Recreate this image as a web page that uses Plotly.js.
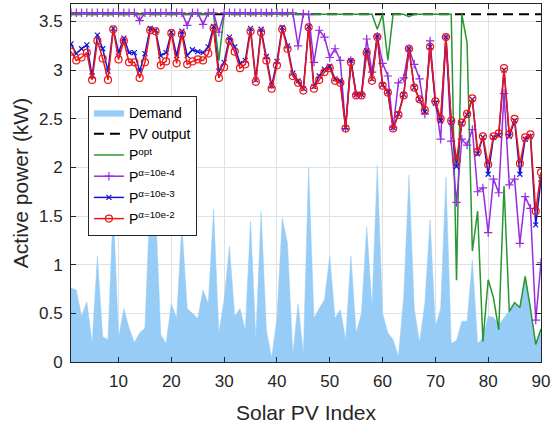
<!DOCTYPE html>
<html>
<head>
<meta charset="utf-8">
<script src="https://cdn.plot.ly/plotly-3.0.1.min.js"></script>
<style>
  html, body { margin: 0; padding: 0; background: #ffffff; }
  #chart { width: 551px; height: 425px; }
</style>
</head>
<body>
<div id="chart"></div>
<script>
// Solar PV index 1..90
const pvIndex = Array.from({ length: 90 }, (_, i) => i + 1);

// Demand at each PV bus (kW)
const demand = [
  0.76, 0.74, 0.47, 0.62, 0.19, 1.09, 0.26, 0.23, 1.60, 0.25,
  0.55, 0.35, 0.20, 0.30, 0.35, 1.70, 1.60, 0.28, 0.19, 0.60,
  0.45, 1.41, 0.55, 0.50, 0.45, 0.74, 0.60, 1.57, 0.30, 0.64,
  1.19, 0.47, 0.55, 0.33, 1.45, 0.24, 1.55, 0.33, 0.04, 0.45,
  1.48, 1.22, 0.08, 0.60, 0.08, 2.00, 0.45, 0.55, 0.64, 1.09,
  0.45, 0.54, 0.23, 1.09, 0.30, 0.50, 1.39, 0.57, 2.02, 0.50,
  0.30, 0.23, 0.06, 0.67, 1.92, 0.55, 0.20, 0.60, 1.46, 0.36,
  0.55, 1.90, 0.19, 0.22, 0.42, 0.42, 1.05, 0.19, 0.25, 0.47,
  0.46, 0.38, 0.45, 0.53, 0.60, 0.56, 0.88, 0.55, 0.19, 0.34
];

// Available PV output (same rating at every bus)
const pvEndX = [1, 90];
const pvOutput = [3.575, 3.575];

// Optimal active power injection
const pOpt = [
  3.575, 3.575, 3.575, 3.575, 3.575, 3.575, 3.575, 3.575, 3.575, 3.575,
  3.575, 3.575, 3.575, 3.575, 3.575, 3.575, 3.575, 3.575, 3.575, 3.575,
  3.575, 3.575, 3.575, 3.575, 3.575, 3.575, 3.575, 3.575, 3.10, 3.575,
  3.575, 3.575, 3.575, 3.575, 3.575, 3.575, 3.575, 3.575, 3.575, 3.575,
  3.575, 3.575, 3.575, 3.575, 3.575, 3.575, 3.575, 3.575, 3.575, 3.575,
  3.575, 3.575, 3.575, 3.575, 3.575, 3.575, 3.575, 3.575, 3.42, 3.575,
  3.10, 3.575, 3.575, 3.575, 3.55, 3.575, 3.575, 3.575, 3.575, 3.575,
  3.575, 3.575, 3.575, 0.84, 3.575, 3.28, 1.14, 1.55, 0.21, 0.845,
  0.66, 0.33, 1.81, 0.52, 0.61, 0.56, 0.88, 0.55, 0.18, 0.34
];

// alpha = 10e-4
const pA4 = [
  3.59, 3.59, 3.59, 3.59, 3.59, 3.59, 3.59, 3.59, 3.59, 3.59,
  3.59, 3.59, 3.59, 3.51, 3.59, 3.59, 3.59, 3.59, 3.59, 3.59,
  3.59, 3.59, 3.46, 3.59, 3.59, 3.47, 3.59, 3.59, 3.39, 3.59,
  3.59, 3.59, 3.59, 3.59, 3.59, 3.59, 3.59, 3.59, 3.59, 3.59,
  3.59, 3.59, 3.59, 3.25, 3.58, 3.57, 3.08, 3.41, 3.34, 3.13,
  3.22, 3.10, 2.40, 3.10, 2.75, 2.75, 3.32, 2.98, 3.35, 3.07,
  2.94, 2.41, 2.87, 2.92, 3.22, 3.06, 2.91, 2.55, 3.30, 2.68,
  2.29, 3.34, 2.27, 1.64, 2.29, 2.23, 2.39, 1.75, 1.79, 1.33,
  1.88, 1.74, 2.76, 1.82, 1.88, 1.22, 1.70, 1.58, 0.43, 1.02
];

// alpha = 10e-3
const pA3 = [
  3.27, 3.17, 3.22, 3.26, 2.94, 3.36, 3.22, 2.99, 3.43, 3.18,
  3.33, 3.18, 3.18, 2.99, 3.17, 3.43, 3.41, 3.15, 3.18, 3.39,
  3.15, 3.40, 3.15, 3.21, 3.19, 3.18, 3.24, 3.45, 2.99, 3.08,
  3.34, 3.24, 3.07, 3.10, 3.43, 2.90, 3.42, 3.14, 2.84, 3.09,
  3.44, 3.25, 2.97, 2.89, 2.81, 3.45, 2.83, 2.94, 3.01, 3.04,
  2.91, 2.89, 2.41, 3.10, 2.75, 2.75, 3.20, 2.91, 3.35, 2.85,
  2.78, 2.41, 2.55, 2.75, 3.22, 2.82, 2.70, 2.57, 3.24, 2.66,
  2.48, 3.34, 2.46, 2.01, 2.45, 2.54, 2.70, 2.14, 2.31, 1.93,
  2.31, 2.33, 3.00, 2.32, 2.48, 1.93, 2.29, 2.32, 1.41, 1.88
];

// alpha = 10e-2
const pA2 = [
  3.19, 3.10, 3.13, 3.18, 2.90, 3.30, 3.12, 2.90, 3.42, 3.11,
  3.30, 3.08, 3.08, 2.92, 3.08, 3.41, 3.40, 3.05, 3.09, 3.38,
  3.07, 3.37, 3.06, 3.09, 3.11, 3.10, 3.17, 3.43, 2.92, 3.03,
  3.30, 3.19, 3.02, 3.06, 3.40, 2.88, 3.39, 3.10, 2.81, 3.05,
  3.42, 3.22, 2.94, 2.87, 2.79, 3.44, 2.81, 2.90, 2.98, 3.02,
  2.89, 2.87, 2.40, 3.08, 2.74, 2.74, 3.18, 2.89, 3.34, 2.84,
  2.77, 2.40, 2.54, 2.74, 3.22, 2.82, 2.70, 2.59, 3.24, 2.68,
  2.50, 3.34, 2.48, 2.07, 2.46, 2.55, 2.71, 2.16, 2.32, 2.03,
  2.32, 2.35, 3.02, 2.34, 2.50, 2.04, 2.31, 2.34, 1.55, 1.95
];

const xTicks = [10, 20, 30, 40, 50, 60, 70, 80, 90];
const yTicks = [0, 0.5, 1, 1.5, 2, 2.5, 3, 3.5];
const yTickText = ['0', '0.5', '1', '1.5', '2', '2.5', '3', '3.5'];

const FONT = 'Liberation Sans, Arial, Helvetica, sans-serif';
const AXIS_COLOR = '#262626';

const traces = [
  {
    x: pvIndex, y: demand, name: 'Demand', type: 'scatter', mode: 'lines',
    fill: 'tozeroy', fillcolor: 'rgb(150,204,246)',
    line: { color: 'rgb(150,204,246)', width: 0.5 }
  },
  {
    x: pvEndX, y: pvOutput, name: 'PV output', type: 'scatter', mode: 'lines',
    line: { color: '#000000', width: 2, dash: '10px,6px' }
  },
  {
    x: pvIndex, y: pOpt, name: 'P<sup>opt</sup>', type: 'scatter', mode: 'lines',
    line: { color: 'rgb(40,150,50)', width: 1.5 }
  },
  {
    x: pvIndex, y: pA4, name: 'P<sup>α=10e-4</sup>', type: 'scatter', mode: 'lines+markers',
    line: { color: 'rgb(150,45,225)', width: 1.5 },
    marker: { symbol: 'cross-thin-open', size: 6, color: 'rgb(150,45,225)', line: { color: 'rgb(150,45,225)', width: 1.2 } }
  },
  {
    x: pvIndex, y: pA3, name: 'P<sup>α=10e-3</sup>', type: 'scatter', mode: 'lines+markers',
    line: { color: 'rgb(20,20,215)', width: 1.5 },
    marker: { symbol: 'x-thin-open', size: 5, color: 'rgb(20,20,215)', line: { color: 'rgb(20,20,215)', width: 1.2 } }
  },
  {
    x: pvIndex, y: pA2, name: 'P<sup>α=10e-2</sup>', type: 'scatter', mode: 'lines+markers',
    line: { color: 'rgb(240,20,20)', width: 1.5 },
    marker: { symbol: 'circle-open', size: 7, color: 'rgb(240,20,20)', line: { color: 'rgb(240,20,20)', width: 1.2 } }
  }
];

const layout = {
  width: 551, height: 425,
  margin: { l: 71, r: 10, t: 4, b: 63, pad: 0 },
  paper_bgcolor: '#ffffff', plot_bgcolor: '#ffffff',
  font: { family: FONT, color: AXIS_COLOR },
  showlegend: true,
  legend: {
    x: 0.036, y: 0.743, xanchor: 'left', yanchor: 'top',
    bgcolor: '#ffffff', bordercolor: AXIS_COLOR, borderwidth: 1,
    font: { family: FONT, size: 14, color: '#000000' },
    tracegroupgap: 0, itemwidth: 30
  },
  xaxis: {
    range: [1, 90], tickvals: xTicks, ticks: 'inside', ticklen: 5, tickcolor: AXIS_COLOR,
    showline: true, linecolor: AXIS_COLOR, linewidth: 1, mirror: 'ticks',
    showgrid: true, gridcolor: '#e1e1e1', gridwidth: 1, zeroline: false,
    tickfont: { family: FONT, size: 17, color: AXIS_COLOR },
    ticklabelstandoff: 4,
    title: { text: 'Solar PV Index', font: { family: FONT, size: 21, color: AXIS_COLOR }, standoff: 14 }
  },
  yaxis: {
    range: [0, 3.68], tickvals: yTicks, ticktext: yTickText, ticks: 'inside', ticklen: 5, tickcolor: AXIS_COLOR,
    showline: true, linecolor: AXIS_COLOR, linewidth: 1, mirror: 'ticks',
    showgrid: true, gridcolor: '#e1e1e1', gridwidth: 1, zeroline: false,
    tickfont: { family: FONT, size: 17, color: AXIS_COLOR },
    ticklabelstandoff: 4,
    title: { text: 'Active power (kW)', font: { family: FONT, size: 21, color: AXIS_COLOR }, standoff: 4 }
  }
};

Plotly.newPlot('chart', traces, layout, { displayModeBar: false, staticPlot: true });
</script>
</body>
</html>
